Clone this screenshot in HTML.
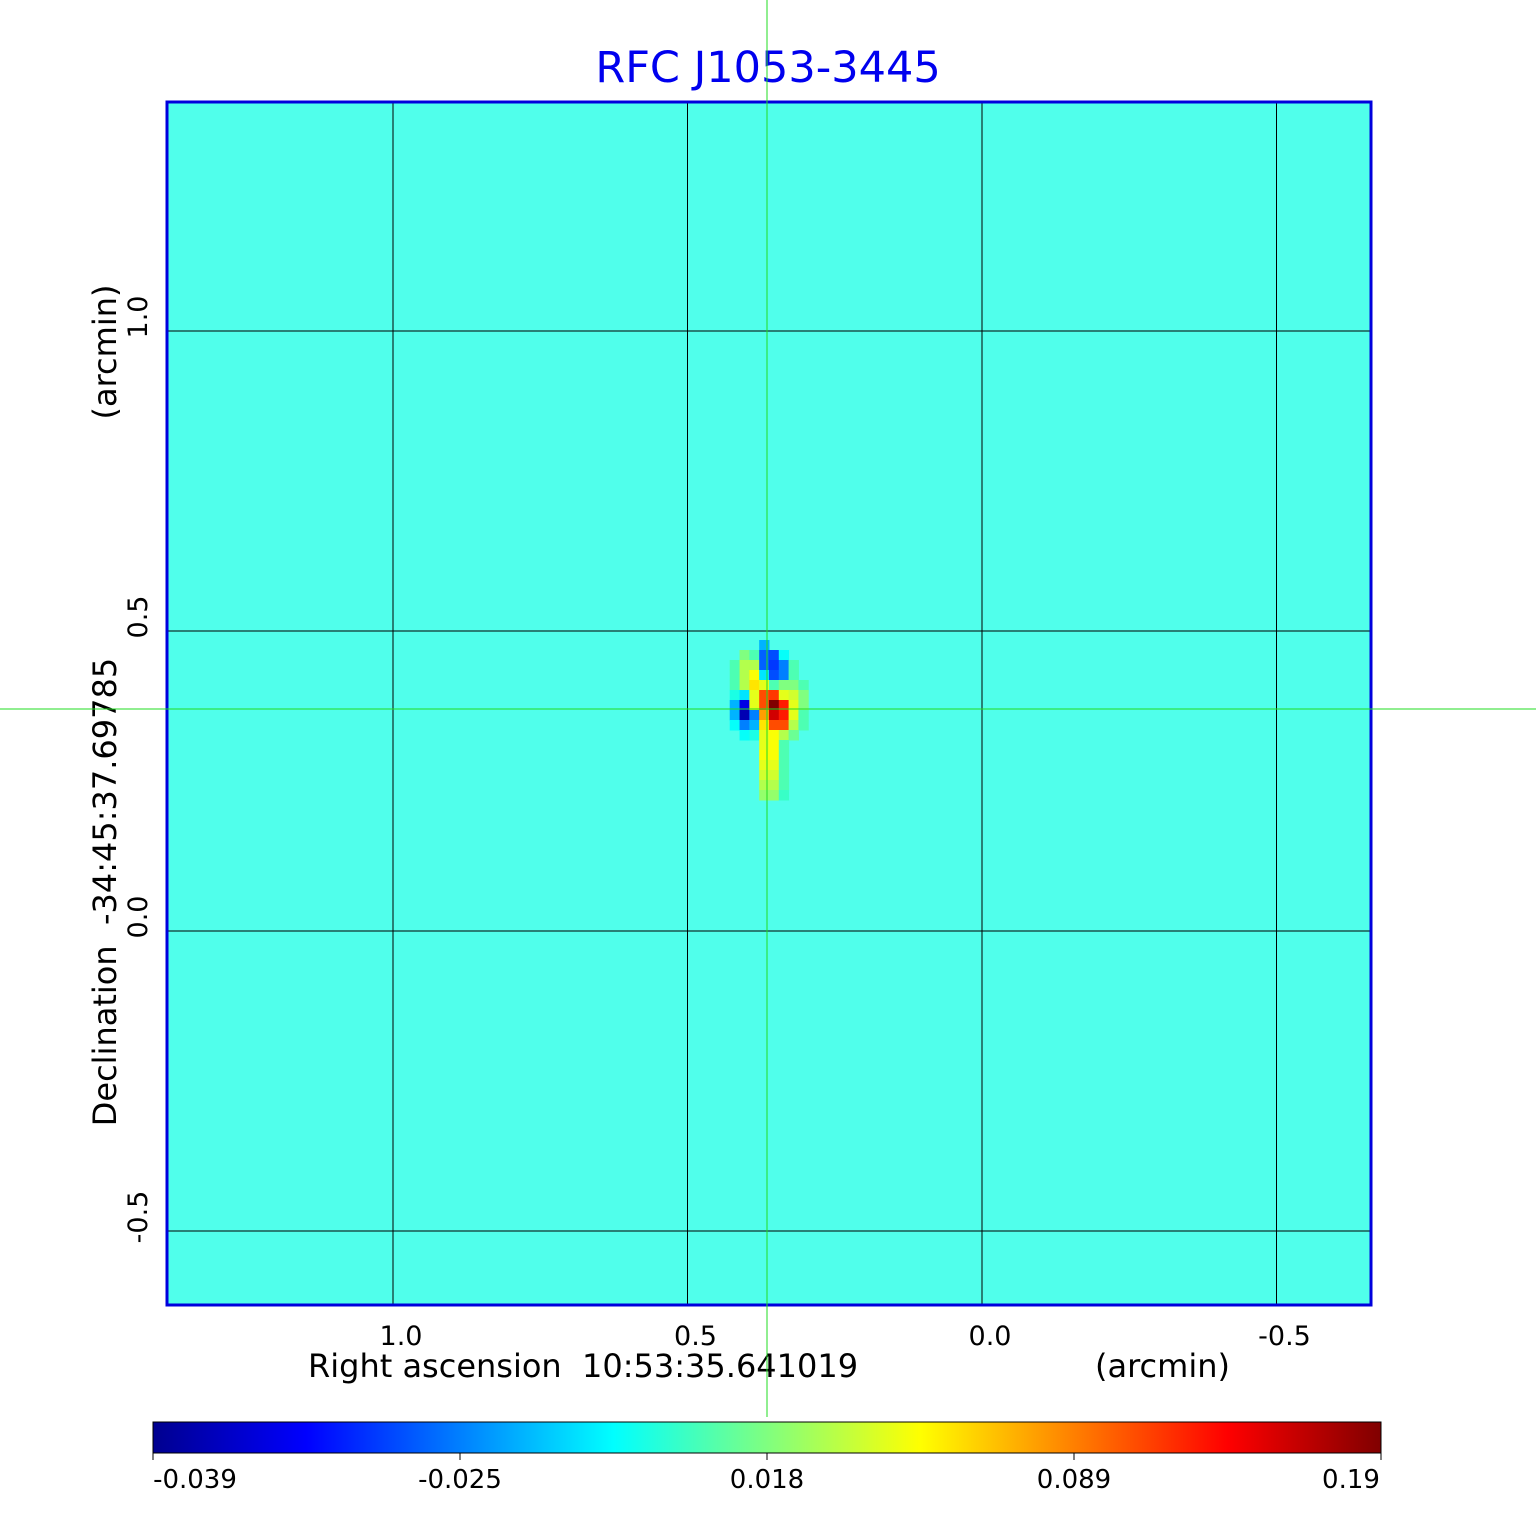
<!DOCTYPE html>
<html><head><meta charset="utf-8"><style>
body{margin:0;background:#fff;width:1536px;height:1511px;overflow:hidden;font-family:"DejaVu Sans","Liberation Sans",sans-serif}
text{white-space:pre}
</style></head><body>
<svg id="chart" width="1536" height="1511" xmlns="http://www.w3.org/2000/svg" font-family="DejaVu Sans, Liberation Sans, sans-serif" xml:space="preserve">
<defs>
<linearGradient id="jet" x1="0" x2="1" y1="0" y2="0">
<stop offset="0" stop-color="#00008f"/><stop offset="0.125" stop-color="#0000ff"/><stop offset="0.375" stop-color="#00ffff"/><stop offset="0.625" stop-color="#ffff00"/><stop offset="0.875" stop-color="#ff0000"/><stop offset="1" stop-color="#800000"/>
</linearGradient>
</defs>
<text x="768" y="82" text-anchor="middle" font-size="43" fill="#0000ee">RFC J1053-3445</text>
<rect x="167" y="102" width="1204" height="1203" fill="#50ffeb"/>
<g id="cells"></g>
<g id="grid"></g>
<rect x="167" y="102" width="1204" height="1203" fill="none" stroke="#0000dd" stroke-width="3"/>
<g id="ticks" font-size="27" fill="#000"></g>
<text x="308" y="1377" font-size="32">Right ascension  10:53:35.641019</text>
<text x="1095" y="1377" font-size="32">(arcmin)</text>
<text transform="translate(116,892) rotate(-90)" text-anchor="middle" font-size="32">Declination  -34:45:37.69785</text>
<text transform="translate(116,352) rotate(-90)" text-anchor="middle" font-size="32">(arcmin)</text>
<rect x="153" y="1422" width="1228" height="31" fill="url(#jet)" stroke="#000" stroke-width="1"/>
<g id="cbticks" font-size="26"></g>
<line x1="767" y1="0" x2="767" y2="1417" stroke="#22dd22" stroke-width="1"/>
<line x1="0" y1="709" x2="1536" y2="709" stroke="#22dd22" stroke-width="1"/>
</svg>
<script>
const xTicks=[1.0,0.5,0.0,-0.5];
const xTickLabels=["1.0","0.5","0.0","-0.5"];
const yTicks=[1.0,0.5,0.0,-0.5];
const yTickLabels=["1.0","0.5","0.0","-0.5"];
const cbLabels=["-0.039","-0.025","0.018","0.089","0.19"];
// heatmap intensities (fraction of colour scale), rows top->bottom, cols left->right, cell = 1/60 arcmin
const cellColsStart=0.445, cellRowsStart=0.485;
const background=0.41;
const heatRows=[
[0.41,0.41,0.41,0.41,0.30,0.41,0.41,0.41,0.41,0.41],
[0.41,0.41,0.50,0.45,0.22,0.20,0.38,0.41,0.41,0.41],
[0.41,0.45,0.55,0.55,0.22,0.18,0.25,0.45,0.41,0.41],
[0.41,0.45,0.55,0.62,0.35,0.20,0.25,0.45,0.41,0.41],
[0.41,0.45,0.55,0.65,0.60,0.45,0.50,0.50,0.45,0.41],
[0.41,0.40,0.35,0.60,0.80,0.82,0.60,0.58,0.50,0.41],
[0.41,0.30,0.10,0.60,0.80,1.00,0.85,0.60,0.50,0.41],
[0.41,0.30,0.05,0.25,0.72,0.92,0.85,0.60,0.45,0.41],
[0.41,0.38,0.25,0.30,0.65,0.80,0.80,0.55,0.45,0.41],
[0.41,0.41,0.38,0.40,0.60,0.62,0.55,0.48,0.41,0.41],
[0.41,0.41,0.41,0.41,0.60,0.62,0.45,0.41,0.41,0.41],
[0.41,0.41,0.41,0.41,0.62,0.62,0.45,0.41,0.41,0.41],
[0.41,0.41,0.41,0.41,0.60,0.60,0.45,0.41,0.41,0.41],
[0.41,0.41,0.41,0.41,0.58,0.58,0.45,0.41,0.41,0.41],
[0.41,0.41,0.41,0.41,0.55,0.55,0.45,0.41,0.41,0.41],
[0.41,0.41,0.41,0.41,0.52,0.52,0.43,0.41,0.41,0.41]
];
const NS="http://www.w3.org/2000/svg";
function xs(v){return 982+(v-0)*(-589);}
function ys(v){return 931+(v-0)*(-600);}
function cl(a){return Math.max(0,Math.min(1,a));}
function jet(t){const r=cl(1.5-Math.abs(4*t-3)),g=cl(1.5-Math.abs(4*t-2)),b=cl(1.5-Math.abs(4*t-1));
return `rgb(${Math.round(r*255)},${Math.round(g*255)},${Math.round(b*255)})`;}
const cells=document.getElementById('cells');
const step=1/60;
heatRows.forEach((row,j)=>row.forEach((t,i)=>{
 if(t===background) return;
 const x0=xs(cellColsStart-i*step), x1=xs(cellColsStart-(i+1)*step);
 const y0=ys(cellRowsStart-j*step), y1=ys(cellRowsStart-(j+1)*step);
 const r=document.createElementNS(NS,'rect');
 r.setAttribute('x',Math.min(x0,x1));r.setAttribute('y',Math.min(y0,y1));
 r.setAttribute('width',Math.abs(x1-x0)+0.5);r.setAttribute('height',Math.abs(y1-y0)+0.5);
 r.setAttribute('fill',jet(t));
 
 
 cells.appendChild(r);
}));
const grid=document.getElementById('grid'),ticks=document.getElementById('ticks');
xTicks.forEach((v,k)=>{
 const l=document.createElementNS(NS,'line');
 l.setAttribute('x1',xs(v));l.setAttribute('x2',xs(v));l.setAttribute('y1',102);l.setAttribute('y2',1305);l.setAttribute('stroke','#000');l.setAttribute('stroke-width','1');
 
 
 grid.appendChild(l);
 const t=document.createElementNS(NS,'text');
 t.setAttribute('x',xs(v)+8);t.setAttribute('y',1345);t.setAttribute('text-anchor','middle');t.textContent=xTickLabels[k];
 
 
 ticks.appendChild(t);
});
yTicks.forEach((v,k)=>{
 const l=document.createElementNS(NS,'line');
 l.setAttribute('y1',ys(v));l.setAttribute('y2',ys(v));l.setAttribute('x1',167);l.setAttribute('x2',1371);l.setAttribute('stroke','#000');l.setAttribute('stroke-width','1');
 
 
 grid.appendChild(l);
 const t=document.createElementNS(NS,'text');
 t.setAttribute('transform',`translate(147,${ys(v)-14}) rotate(-90)`);t.setAttribute('text-anchor','middle');t.textContent=yTickLabels[k];
 
 
 ticks.appendChild(t);
});
const cb=document.getElementById('cbticks');
cbLabels.forEach((s,k)=>{
 const x=153+k*(1228/4)+(k===0?42:0)-(k===4?30:0);
 const t=document.createElementNS(NS,'text');
 t.setAttribute('x',x);t.setAttribute('y',1488);t.setAttribute('text-anchor','middle');t.textContent=s;
 
 
 cb.appendChild(t);
 const l=document.createElementNS(NS,'line');
 const lx=153+k*(1228/4);
 l.setAttribute('x1',lx);l.setAttribute('x2',lx);l.setAttribute('y1',1453);l.setAttribute('y2',1460);l.setAttribute('stroke','#000');
 
 
 cb.appendChild(l);
});
</script>
</body></html>
